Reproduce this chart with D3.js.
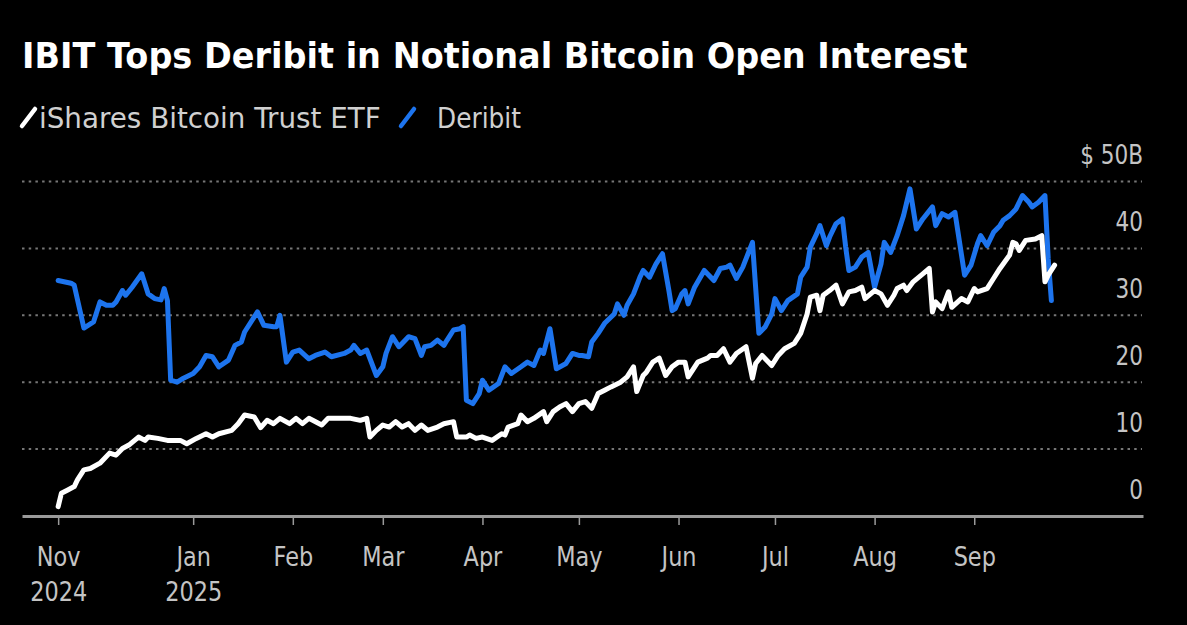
<!DOCTYPE html>
<html>
<head>
<meta charset="utf-8">
<script src="https://cdn.jsdelivr.net/npm/d3@7"></script>
<style>
  html, body { margin: 0; padding: 0; background: #000; }
  svg { display: block; }
</style>
</head>
<body>
<svg id="chart" width="1187" height="625"></svg>
<script>
// ---------------- DATA ----------------
const titleText = "IBIT Tops Deribit in Notional Bitcoin Open Interest";
const seriesNames = ["iShares Bitcoin Trust ETF", "Deribit"];
const yTickValues = [0, 10, 20, 30, 40, 50];
const yTickLabels = ["0", "10", "20", "30", "40", "$ 50B"];
const xTickDates = ["2024-11-20", "2025-01-01", "2025-02-01", "2025-03-01", "2025-04-01", "2025-05-01", "2025-06-01", "2025-07-01", "2025-08-01", "2025-09-01"];
const xTickMonths = ["Nov", "Jan", "Feb", "Mar", "Apr", "May", "Jun", "Jul", "Aug", "Sep"];
const xTickYears = ["2024", "2025", "", "", "", "", "", "", "", ""];

const ibitDates = ["2024-11-20","2024-11-21","2024-11-23","2024-11-25","2024-11-26","2024-11-28","2024-11-30","2024-12-03","2024-12-06","2024-12-08","2024-12-10","2024-12-12","2024-12-15","2024-12-17","2024-12-18","2024-12-21","2024-12-24","2024-12-28","2024-12-30","2025-01-02","2025-01-05","2025-01-07","2025-01-09","2025-01-13","2025-01-15","2025-01-17","2025-01-20","2025-01-22","2025-01-24","2025-01-26","2025-01-28","2025-01-31","2025-02-02","2025-02-04","2025-02-06","2025-02-10","2025-02-12","2025-02-16","2025-02-19","2025-02-22","2025-02-24","2025-02-25","2025-02-27","2025-03-01","2025-03-03","2025-03-05","2025-03-07","2025-03-09","2025-03-11","2025-03-13","2025-03-15","2025-03-18","2025-03-20","2025-03-23","2025-03-24","2025-03-27","2025-03-28","2025-03-30","2025-04-01","2025-04-04","2025-04-07","2025-04-08","2025-04-09","2025-04-12","2025-04-13","2025-04-15","2025-04-17","2025-04-20","2025-04-21","2025-04-23","2025-04-25","2025-04-27","2025-04-29","2025-05-01","2025-05-03","2025-05-05","2025-05-07","2025-05-09","2025-05-11","2025-05-14","2025-05-16","2025-05-18","2025-05-19","2025-05-21","2025-05-22","2025-05-24","2025-05-26","2025-05-28","2025-05-30","2025-06-01","2025-06-03","2025-06-04","2025-06-07","2025-06-10","2025-06-11","2025-06-13","2025-06-15","2025-06-17","2025-06-19","2025-06-22","2025-06-24","2025-06-25","2025-06-27","2025-06-30","2025-07-02","2025-07-04","2025-07-07","2025-07-09","2025-07-11","2025-07-12","2025-07-14","2025-07-15","2025-07-16","2025-07-18","2025-07-20","2025-07-22","2025-07-24","2025-07-26","2025-07-28","2025-07-29","2025-08-01","2025-08-03","2025-08-05","2025-08-07","2025-08-08","2025-08-10","2025-08-11","2025-08-13","2025-08-16","2025-08-18","2025-08-19","2025-08-20","2025-08-22","2025-08-24","2025-08-25","2025-08-28","2025-08-30","2025-09-01","2025-09-02","2025-09-05","2025-09-07","2025-09-09","2025-09-12","2025-09-13","2025-09-14","2025-09-15","2025-09-17","2025-09-20","2025-09-22","2025-09-23","2025-09-24","2025-09-26"];
const ibitValues = [1.4,3.4,3.9,4.4,5.4,6.9,7.1,7.9,9.4,9.1,10.1,10.6,11.8,11.3,11.8,11.6,11.3,11.3,10.8,11.6,12.3,11.8,12.3,12.8,13.8,15.1,14.8,13.2,14.3,13.8,14.6,13.8,14.6,13.8,14.6,13.6,14.6,14.6,14.6,14.3,14.6,11.8,12.8,13.6,13.3,14.1,13.3,13.8,12.8,13.6,12.8,13.3,13.8,14.1,11.8,11.8,12.1,11.6,11.8,11.3,12.3,12.1,13.3,13.8,15.1,14.1,14.6,15.6,14.1,15.6,16.3,16.8,15.6,16.8,17.1,16.1,18.3,18.8,19.3,20,20.8,22.3,18.6,21,21.5,23,23.6,21,22.3,23,23,20.8,23,23.6,24,24,25,23,24.3,25.3,20.6,22.8,24,22.5,24,25,25.8,27.3,30.2,32.7,33,30.7,33,33.7,34.5,31.7,33.5,33.7,34.2,32.5,33.7,33.2,31.5,33,34,34.5,33.7,35,36.2,37,30.5,32,31,33.5,31.2,32.5,32,34,33.5,34,35.5,37,39,40.9,40.7,39.7,41.2,41.4,41.9,35,36,37.5];

const deribitDates = ["2024-11-20","2024-11-24","2024-11-25","2024-11-28","2024-12-01","2024-12-03","2024-12-05","2024-12-07","2024-12-08","2024-12-10","2024-12-11","2024-12-13","2024-12-16","2024-12-18","2024-12-20","2024-12-22","2024-12-23","2024-12-24","2024-12-25","2024-12-27","2024-12-29","2025-01-01","2025-01-03","2025-01-05","2025-01-07","2025-01-09","2025-01-12","2025-01-14","2025-01-16","2025-01-17","2025-01-21","2025-01-23","2025-01-26","2025-01-27","2025-01-28","2025-01-30","2025-02-01","2025-02-03","2025-02-06","2025-02-08","2025-02-11","2025-02-13","2025-02-17","2025-02-19","2025-02-20","2025-02-22","2025-02-24","2025-02-27","2025-03-01","2025-03-02","2025-03-04","2025-03-06","2025-03-07","2025-03-09","2025-03-11","2025-03-13","2025-03-14","2025-03-16","2025-03-18","2025-03-20","2025-03-21","2025-03-23","2025-03-25","2025-03-26","2025-03-27","2025-03-29","2025-03-31","2025-04-01","2025-04-03","2025-04-06","2025-04-08","2025-04-10","2025-04-13","2025-04-15","2025-04-17","2025-04-19","2025-04-20","2025-04-22","2025-04-24","2025-04-27","2025-04-29","2025-05-01","2025-05-02","2025-05-04","2025-05-05","2025-05-07","2025-05-09","2025-05-12","2025-05-13","2025-05-15","2025-05-16","2025-05-18","2025-05-20","2025-05-21","2025-05-23","2025-05-25","2025-05-27","2025-05-29","2025-05-30","2025-05-31","2025-06-02","2025-06-03","2025-06-04","2025-06-06","2025-06-09","2025-06-12","2025-06-14","2025-06-16","2025-06-17","2025-06-19","2025-06-21","2025-06-24","2025-06-26","2025-06-28","2025-06-30","2025-07-01","2025-07-03","2025-07-05","2025-07-08","2025-07-09","2025-07-11","2025-07-12","2025-07-14","2025-07-15","2025-07-17","2025-07-18","2025-07-20","2025-07-22","2025-07-23","2025-07-24","2025-07-26","2025-07-28","2025-07-30","2025-08-01","2025-08-03","2025-08-04","2025-08-06","2025-08-08","2025-08-10","2025-08-12","2025-08-14","2025-08-16","2025-08-19","2025-08-20","2025-08-22","2025-08-24","2025-08-26","2025-08-29","2025-08-31","2025-09-02","2025-09-03","2025-09-05","2025-09-07","2025-09-09","2025-09-10","2025-09-12","2025-09-14","2025-09-16","2025-09-18","2025-09-19","2025-09-21","2025-09-23","2025-09-24","2025-09-25"];
const deribitValues = [35.2,34.8,34.5,28.1,29,32,31.5,31.5,32,33.7,33,34.2,36.2,33.2,32.5,32.3,34,32.2,20.3,20,20.6,21.3,22.3,24,23.8,22.3,23.3,25.5,26,27.5,30.5,28.5,28.3,28.3,30,23,24.5,24.8,23.5,24,24.5,23.8,24.3,24.8,25.5,24.3,24.8,21,22.3,24.3,26.8,25.3,25.8,26.8,26.5,24,25.3,25.5,26.3,25.5,26.3,27.8,28,28.3,17.3,16.8,18.3,20.3,18.8,19.8,22.3,21.3,22.3,23,22.5,24.8,24.3,28,22,22.8,24.3,24,24,23.8,26,27.3,28.8,30.2,31.7,30,31.5,33.2,35.7,36.7,35.7,37.7,39.2,33.7,30.7,31,33.2,33.7,31.7,34.2,36.7,35.2,37,37.2,37.5,35.5,37.2,40.9,27.3,28.3,30.2,32.5,30.7,32.2,33.2,35.7,37.2,40.2,42.2,43.4,40.4,41.7,43.7,44.4,40.2,36.7,37.2,38.7,39.4,34.2,37.7,40.9,39.4,41.9,44.9,48.9,42.9,44.4,46.2,43.4,45.2,44.7,45.4,36,37.5,40.7,41.9,40.4,42.4,43.4,44.2,44.9,45.9,47.9,46.9,46.2,46.9,47.9,38.5,32.2];

const seriesColors = ["#ffffff", "#1d74ee"];

// ---------------- CHART ----------------
const parse = d3.utcParse("%Y-%m-%d");
const svg = d3.select("#chart");
const FONT = "'DejaVu Sans', sans-serif";
const AXIS_TEXT = "#c4c4c4";
const COND = 0.83;

const x = d3.scaleUtc()
  .domain([Date.UTC(2024, 10, 8, 18), Date.UTC(2025, 9, 23, 12)])
  .range([22, 1143]);
const y = d3.scaleLinear().domain([0, 50]).range([516, 181.5]);

function fitText(sel, tx, ty, target) {
  const w = sel.node().getComputedTextLength();
  const k = target / w;
  sel.attr("transform", `translate(${tx},${ty}) scale(${k},1)`);
}

// Title
const title = svg.append("text")
  .attr("x", 0).attr("y", 0)
  .attr("font-family", FONT).attr("font-weight", "bold").attr("font-size", 35)
  .attr("fill", "#ffffff").text(titleText);
fitText(title, 22, 68, 946);

// Legend
const legendX = [[22, 39, 342], [401, 437, 84]];
seriesNames.forEach((name, i) => {
  const [ix, tx, tw] = legendX[i];
  svg.append("line")
    .attr("x1", ix).attr("y1", 126).attr("x2", ix + 13).attr("y2", 109)
    .attr("stroke", seriesColors[i]).attr("stroke-width", 4.5).attr("stroke-linecap", "round");
  const t = svg.append("text").attr("x", 0).attr("y", 0)
    .attr("font-family", FONT).attr("font-size", 28).attr("fill", "#d0d0d0").text(name);
  fitText(t, tx, 128, tw);
});

// Grid
svg.append("g").selectAll("line")
  .data(yTickValues.filter(v => v > 0))
  .join("line")
  .attr("x1", 22).attr("x2", 1142)
  .attr("y1", d => y(d)).attr("y2", d => y(d))
  .attr("stroke", "#767676").attr("stroke-width", 2)
  .attr("stroke-dasharray", "2.5,4.2");

// Y axis (labels above gridlines, right aligned)
const yAxis = svg.append("g").attr("transform", "translate(1143,0)")
  .call(d3.axisLeft(y).tickValues(yTickValues).tickSize(0).tickPadding(0)
    .tickFormat((d, i) => yTickLabels[i]));
yAxis.select(".domain").remove();
yAxis.selectAll("text")
  .attr("x", 0).attr("dy", -18)
  .attr("font-family", FONT).attr("font-size", 26).attr("fill", AXIS_TEXT)
  .attr("transform", `scale(${COND},1)`);

// Lines
const line = d3.line().x(d => x(d.date)).y(d => y(d.value));
const deribit = deribitDates.map((d, i) => ({ date: parse(d), value: deribitValues[i] }));
const ibit = ibitDates.map((d, i) => ({ date: parse(d), value: ibitValues[i] }));

svg.append("path").datum(deribit).attr("d", line)
  .attr("fill", "none").attr("stroke", seriesColors[1]).attr("stroke-width", 5)
  .attr("stroke-linejoin", "round").attr("stroke-linecap", "round");
svg.append("path").datum(ibit).attr("d", line)
  .attr("fill", "none").attr("stroke", seriesColors[0]).attr("stroke-width", 5)
  .attr("stroke-linejoin", "round").attr("stroke-linecap", "round");

// X axis
const tickDates = xTickDates.map(parse);
const xAxis = svg.append("g").attr("transform", "translate(0,516)")
  .call(d3.axisBottom(x).tickValues(tickDates).tickSize(9).tickSizeOuter(0).tickFormat(() => ""));
xAxis.select(".domain").attr("stroke", "#9a9a9a").attr("stroke-width", 3);
xAxis.selectAll(".tick line").attr("stroke", "#9a9a9a").attr("stroke-width", 1.5);
xAxis.selectAll(".tick text").each(function(d, i) {
  const t = d3.select(this);
  t.attr("y", null).attr("dy", null)
    .attr("font-family", FONT).attr("font-size", 27).attr("fill", AXIS_TEXT)
    .attr("text-anchor", "middle")
    .attr("transform", `scale(${COND},1)`);
  t.append("tspan").attr("x", 0).attr("y", 50).text(xTickMonths[i]);
  if (xTickYears[i]) t.append("tspan").attr("x", 0).attr("y", 85).text(xTickYears[i]);
});
</script>
</body>
</html>
